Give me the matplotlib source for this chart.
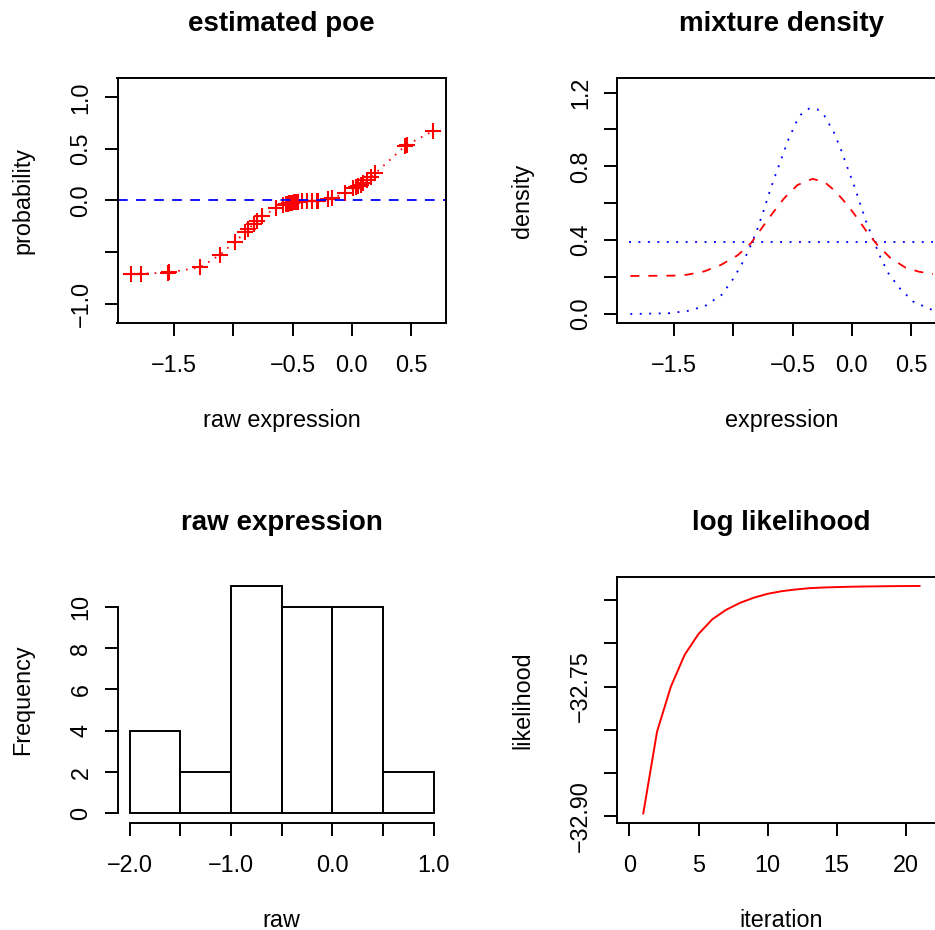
import numpy as np
import matplotlib
matplotlib.use("Agg")
import matplotlib.pyplot as plt

plt.rcParams['font.family'] = ['Liberation Sans', 'DejaVu Sans']
plt.rcParams['lines.scale_dashes'] = False

# estimated poe (sorted raw expression vs probability)
poe_x = [-1.867, -1.782, -1.552, -1.545, -1.281, -1.112, -0.991, -0.901, -0.873, -0.825,
         -0.803, -0.760, -0.642, -0.578, -0.557, -0.541, -0.527, -0.515, -0.502, -0.485,
         -0.470, -0.451, -0.422, -0.380, -0.338, -0.296, -0.282, -0.198, -0.169, -0.057,
         0.014, 0.035, 0.055, 0.075, 0.098, 0.126, 0.165, 0.197, 0.450, 0.464, 0.689]
poe_y = [-0.709, -0.709, -0.700, -0.698, -0.648, -0.525, -0.403, -0.309, -0.274, -0.225,
         -0.203, -0.155, -0.074, -0.045, -0.038, -0.032, -0.027, -0.024, -0.020, -0.017,
         -0.014, -0.012, -0.009, -0.006, -0.004, -0.002, -0.001, 0.014, 0.022, 0.070,
         0.118, 0.128, 0.140, 0.153, 0.170, 0.196, 0.232, 0.262, 0.529, 0.540, 0.674]

# mixture density panel
norm_x = [-1.87, -1.55, -1.39, -1.24, -1.10, -1.01, -0.93, -0.87, -0.80, -0.75, -0.70,
          -0.645, -0.59, -0.535, -0.47, -0.43, -0.36, -0.29, -0.23, -0.15, -0.09, -0.035,
          0.02, 0.07, 0.12, 0.18, 0.24, 0.31, 0.41, 0.52, 0.687]
norm_y = [0.000, 0.004, 0.016, 0.043, 0.103, 0.182, 0.268, 0.345, 0.455, 0.548, 0.650,
          0.752, 0.849, 0.945, 1.037, 1.080, 1.113, 1.109, 1.073, 0.983, 0.889, 0.791,
          0.696, 0.600, 0.504, 0.405, 0.311, 0.220, 0.136, 0.067, 0.020]
mix_x = [-1.87, -1.50, -1.39, -1.245, -1.105, -0.964, -0.852, -0.767, -0.669, -0.571, -0.458,
         -0.332, -0.233, -0.135, -0.037, 0.048, 0.132, 0.217, 0.329, 0.455, 0.568, 0.687]
mix_y = [0.206, 0.208, 0.213, 0.231, 0.266, 0.318, 0.383, 0.459, 0.546, 0.627, 0.699,
         0.732, 0.717, 0.663, 0.591, 0.519, 0.441, 0.374, 0.302, 0.251, 0.229, 0.217]
unif_x = [-1.877, 0.687]
unif_y = [0.39, 0.39]

# histogram of raw
hist_edges = [-2.0, -1.5, -1.0, -0.5, 0.0, 0.5, 1.0]
hist_counts = [4, 2, 11, 10, 10, 2]

# log likelihood by iteration
iters = list(range(1, 22))
loglik = [-32.897, -32.802, -32.750, -32.713, -32.689, -32.672, -32.661, -32.653, -32.647,
          -32.6425, -32.6395, -32.6375, -32.636, -32.6352, -32.6347, -32.6343, -32.6340,
          -32.6338, -32.6336, -32.6335, -32.6334]

W, H = 935, 930
fig = plt.figure(figsize=(W / 100, H / 100), dpi=100)
FS = 16.8
LW = 1.4


def panel(l, t, r, b):
    return fig.add_axes([l / W, 1 - b / H, (r - l) / W, (b - t) / H])


def style(ax, title, xlab, ylab, xt, xtl, yt, ytl):
    hpx = ax.get_position().height * H
    wpx = ax.get_position().width * W
    ax.set_xticks(xt)
    ax.set_xticklabels(xtl)
    ax.set_yticks(yt)
    ax.set_yticklabels(ytl)
    ax.tick_params(direction='out', length=9.4, width=LW, labelsize=FS)
    ax.tick_params(axis='x', pad=26)
    ax.tick_params(axis='y', pad=12.2)
    for lab in ax.get_xticklabels():
        lab.set_va('baseline')
    for lab in ax.get_yticklabels():
        lab.set_rotation(90)
        lab.set_rotation_mode('anchor')
        lab.set_ha('center')
        lab.set_va('baseline')
    for s in ax.spines.values():
        s.set_linewidth(LW)
    ax.set_xlabel(xlab, fontsize=FS, va='baseline')
    ax.xaxis.set_label_coords(0.5, -104 / hpx)
    ax.set_ylabel(ylab, fontsize=FS, va='baseline')
    ax.yaxis.set_label_coords(-88 / wpx, 0.5)
    ax.text(0.5, 1 + 47 / hpx, title, transform=ax.transAxes, ha='center',
            va='baseline', fontsize=20, fontweight='bold')


# estimated poe
ax1 = panel(117.5, 78, 445.5, 323)
ax1.plot(poe_x, poe_y, color='red', lw=1.3, dashes=(1.2, 4.5))
ax1.plot(poe_x, poe_y, 'r+', ms=11.5, mew=1.5, ls='none')
ax1.axhline(0, color='blue', lw=1.3, dashes=(7, 6))
ax1.set_xlim(-1.98, 0.792)
ax1.set_ylim(-1.188, 1.188)
style(ax1, 'estimated poe', 'raw expression', 'probability',
      [-1.5, -1.0, -0.5, 0.0, 0.5], ['\u22121.5', '', '\u22120.5', '0.0', '0.5'],
      [-1.0, -0.5, 0.0, 0.5, 1.0], ['\u22121.0', '', '0.0', '0.5', '1.0'])

# mixture density
ax2 = panel(617.3, 78.3, 945.5, 322.5)
ax2.plot(norm_x, norm_y, color='blue', lw=1.3, dashes=(1.4, 5.4))
ax2.plot(unif_x, unif_y, color='blue', lw=1.3, dashes=(1.4, 5.4))
ax2.plot(mix_x, mix_y, color='red', lw=1.3, dashes=(6.5, 6.5))
ax2.set_xlim(-1.98, 0.792)
ax2.set_ylim(-0.046, 1.277)
style(ax2, 'mixture density', 'expression', 'density',
      [-1.5, -1.0, -0.5, 0.0, 0.5], ['\u22121.5', '', '\u22120.5', '0.0', '0.5'],
      [0.0, 0.2, 0.4, 0.6, 0.8, 1.0, 1.2], ['0.0', '', '0.4', '', '0.8', '', '1.2'])

# raw expression histogram
ax3 = panel(117.5, 577, 446, 822.5)
ax3.bar(hist_edges[:-1], hist_counts, width=np.diff(hist_edges), align='edge',
        color='white', edgecolor='black', linewidth=LW)
ax3.set_xlim(-2.12, 1.12)
ax3.set_ylim(-0.44, 11.44)
style(ax3, 'raw expression', 'raw', 'Frequency',
      [-2.0, -1.5, -1.0, -0.5, 0.0, 0.5, 1.0], ['\u22122.0', '', '\u22121.0', '', '0.0', '', '1.0'],
      [0, 2, 4, 6, 8, 10], ['0', '2', '4', '6', '8', '10'])
ax3.spines['top'].set_visible(False)
ax3.spines['right'].set_visible(False)
ax3.spines['left'].set_bounds(0, 10)
ax3.spines['bottom'].set_bounds(-2.0, 1.0)

# log likelihood
ax4 = panel(617.3, 577, 945.5, 822.5)
ax4.plot(iters, loglik, color='red', lw=1.4)
ax4.set_xlim(-0.88, 22.88)
ax4.set_ylim(-32.9075, -32.623)
style(ax4, 'log likelihood', 'iteration', 'likelihood',
      [0, 5, 10, 15, 20], ['0', '5', '10', '15', '20'],
      [-32.90, -32.85, -32.80, -32.75, -32.70, -32.65],
      ['\u221232.90', '', '', '\u221232.75', '', ''])

fig.savefig('out.png', dpi=100)
